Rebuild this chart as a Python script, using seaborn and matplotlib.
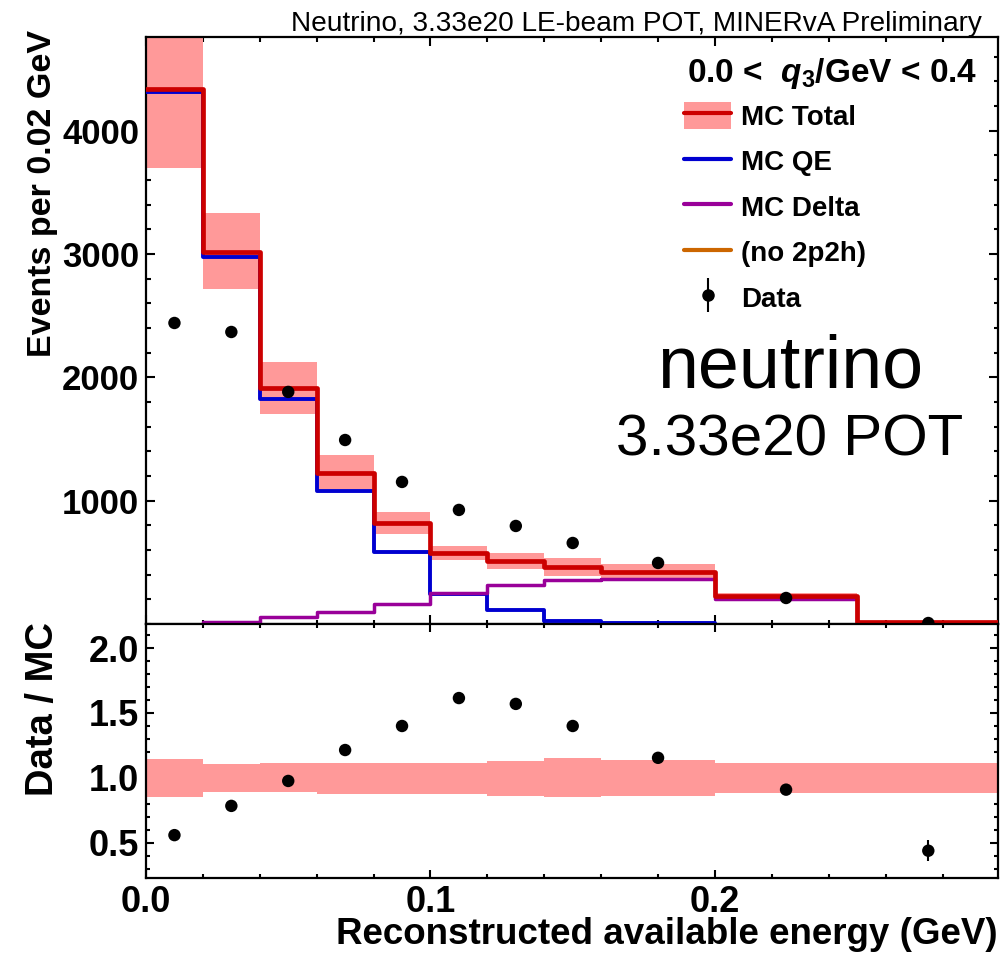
import numpy as np
import pandas as pd
import matplotlib
matplotlib.use("Agg")
import matplotlib.pyplot as plt
import seaborn as sns
from matplotlib.patches import Patch
from matplotlib.lines import Line2D
from matplotlib.ticker import MultipleLocator

# ---------------- data ----------------
bin_edges = [0.0, 0.02, 0.04, 0.06, 0.08, 0.10, 0.12, 0.14, 0.16, 0.20, 0.25, 0.30]
mc_total = [4339, 3017, 1914, 1225, 819, 576, 511, 462, 422, 227, 16]
mc_band_hi = [4975, 3333, 2125, 1371, 908, 633, 576, 535, 487, 253, 18]
mc_band_lo = [3698, 2717, 1703, 1095, 730, 519, 446, 389, 373, 201, 14]
mc_qe = [4315, 2977, 1825, 1079, 584, 245, 114, 24, 8]          # bins up to 0.20
mc_delta = [0, 16, 57, 97, 162, 251, 316, 357, 365, 203, 10]
data_x = [0.01, 0.03, 0.05, 0.07, 0.09, 0.11, 0.13, 0.15, 0.18, 0.225, 0.275]
data_y = [2441, 2368, 1882, 1492, 1152, 925, 795, 657, 495, 211, 8]
data_err = [50, 49, 44, 39, 34, 30, 28, 26, 22, 15, 4]
ratio_y = [0.56, 0.785, 0.977, 1.215, 1.40, 1.615, 1.57, 1.40, 1.155, 0.91, 0.44]
ratio_err = [0.02, 0.02, 0.025, 0.03, 0.03, 0.035, 0.035, 0.035, 0.03, 0.025, 0.08]
ratio_band_hi = [1.146, 1.108, 1.115, 1.115, 1.115, 1.115, 1.13, 1.15, 1.135, 1.115, 1.115]
ratio_band_lo = [0.854, 0.892, 0.890, 0.880, 0.880, 0.880, 0.86, 0.85, 0.860, 0.885, 0.885]

x_ticks = [0.0, 0.1, 0.2]
x_ticklabels = ["0.0", "0.1", "0.2"]
y_ticks_top = [1000, 2000, 3000, 4000]
y_ticks_ratio = [0.5, 1.0, 1.5, 2.0]
y_ticklabels_ratio = ["0.5", "1.0", "1.5", "2.0"]

title_text = "Neutrino, 3.33e20 LE-beam POT, MINERvA Preliminary"
legend_header = r"0.0 <  $q_{3}$/GeV < 0.4"
legend_labels = ["MC Total", "MC QE", "MC Delta", "(no 2p2h)", "Data"]

# ---------------- style ----------------
sns.set_theme(style="ticks")
plt.rcParams["font.family"] = ["Liberation Sans", "DejaVu Sans"]
plt.rcParams["mathtext.fontset"] = "custom"
plt.rcParams["mathtext.rm"] = "Liberation Sans:bold"
plt.rcParams["mathtext.it"] = "Liberation Sans:bold:italic"
plt.rcParams["mathtext.bf"] = "Liberation Sans:bold"
for k in ("text.color", "axes.labelcolor", "xtick.color", "ytick.color",
          "xtick.labelcolor", "ytick.labelcolor", "axes.edgecolor"):
    plt.rcParams[k] = "black"

RED = "#cc0000"
BAND = "#ff9999"
BLUE = "#0000d0"
PURPLE = "#990099"
ORANGE = "#cc6600"

W, H = 1002, 955
fig = plt.figure(figsize=(W / 100, H / 100), dpi=100)
L, R = 146 / W, 998 / W
ax1 = fig.add_axes([L, 1 - 624 / H, R - L, (624 - 37) / H])
ax2 = fig.add_axes([L, 1 - 878 / H, R - L, (878 - 624) / H])

def steps(edges, vals):
    return pd.DataFrame({"x": list(edges), "y": list(vals) + [vals[-1]]})

# ---------------- top panel ----------------
ax1.fill_between(bin_edges, list(mc_band_lo) + [mc_band_lo[-1]],
                 list(mc_band_hi) + [mc_band_hi[-1]], step="post",
                 color=BAND, linewidth=0, zorder=1)
d = steps(bin_edges[:len(mc_qe) + 1], mc_qe)
sns.lineplot(data=d, x="x", y="y", drawstyle="steps-post", color=BLUE,
             linewidth=2.8, ax=ax1, legend=False, zorder=3, estimator=None)
d = steps(bin_edges[1:], mc_delta[1:])
sns.lineplot(data=d, x="x", y="y", drawstyle="steps-post", color=PURPLE,
             linewidth=2.5, ax=ax1, legend=False, zorder=3, estimator=None)
d = steps(bin_edges, mc_total)
sns.lineplot(data=d, x="x", y="y", drawstyle="steps-post", color=RED,
             linewidth=3.4, ax=ax1, legend=False, zorder=4, estimator=None)
ax1.errorbar(data_x, data_y, yerr=data_err, fmt="none", ecolor="black",
             elinewidth=1.5, zorder=5)
sns.scatterplot(x=data_x, y=data_y, color="black", s=80, edgecolor="none",
                ax=ax1, zorder=6, legend=False)

ax1.set_xlim(0, 0.2995)
ax1.set_ylim(0, 4760)
ax1.set_xlabel("")
ax1.set_ylabel("Events per 0.02 GeV", fontsize=24.5, fontweight="bold")
ylab = ax1.yaxis.label
ylab.set_rotation_mode("default")
ylab.set_ha("center")
ylab.set_va("top")
ax1.yaxis.set_label_coords((43 - 146) / (998 - 146), 1 + 7 / (624 - 37))
ax1.set_yticks(y_ticks_top)
ax1.yaxis.set_minor_locator(MultipleLocator(200))
ax1.set_xticks(x_ticks)
ax1.set_xticklabels([])
ax1.xaxis.set_minor_locator(MultipleLocator(0.02))

# legend
data_handle = Line2D([], [], color="black", marker="o", markersize=8,
                     linestyle="none")
eh = (Line2D([], [], color="black", marker="|", markersize=24, mew=1.5,
             linestyle="none"), data_handle)
handles = [(Patch(facecolor=BAND, edgecolor="none"), Line2D([], [], color=RED, lw=3)),
           Line2D([], [], color=BLUE, lw=3),
           Line2D([], [], color=PURPLE, lw=3),
           Line2D([], [], color=ORANGE, lw=3),
           eh]
leg = ax1.legend(handles, legend_labels, loc="upper left",
                 bbox_to_anchor=(684 / W, 1 - 102 / H),
                 bbox_transform=fig.transFigure, frameon=False,
                 prop={"weight": "bold", "size": 20}, borderpad=0,
                 borderaxespad=0, handlelength=1.7, handleheight=1.1,
                 handletextpad=0.35, labelspacing=0.6)
fig.text(977 / W, 1 - 82 / H, legend_header, ha="right", va="baseline",
         fontsize=24, fontweight="bold")

fig.text(982 / W, 1 - 31 / H, title_text, ha="right", va="baseline", fontsize=20.2)
fig.text(790 / W, 1 - 388 / H, "neutrino", ha="center", va="baseline", fontsize=53)
fig.text(790 / W, 1 - 455 / H, "3.33e20 POT", ha="center", va="baseline", fontsize=42)

# ---------------- ratio panel ----------------
ax2.fill_between(bin_edges, list(ratio_band_lo) + [ratio_band_lo[-1]],
                 list(ratio_band_hi) + [ratio_band_hi[-1]], step="post",
                 color=BAND, linewidth=0, zorder=1)
ax2.errorbar(data_x, ratio_y, yerr=ratio_err, fmt="none", ecolor="black",
             elinewidth=1.5, zorder=5)
sns.scatterplot(x=data_x, y=ratio_y, color="black", s=80, edgecolor="none",
                ax=ax2, zorder=6, legend=False)
ax2.set_xlim(0, 0.2995)
ax2.set_ylim(0.23, 2.185)
ax2.set_xticks(x_ticks)
ax2.set_xticklabels(x_ticklabels)
ax2.xaxis.set_minor_locator(MultipleLocator(0.02))
ax2.set_yticks(y_ticks_ratio)
ax2.set_yticklabels(y_ticklabels_ratio)
ax2.yaxis.set_minor_locator(MultipleLocator(0.1))
ax2.set_ylabel("Data / MC", fontsize=27.5, fontweight="bold")
rl = ax2.yaxis.label
rl.set_rotation_mode("default")
rl.set_ha("center")
rl.set_va("top")
ax2.yaxis.set_label_coords((43 - 146) / (998 - 146), 1 + 2 / (878 - 624))
ax2.set_xlabel("Reconstructed available energy (GeV)", fontsize=26.5,
               fontweight="bold")
xl = ax2.xaxis.label
xl.set_ha("right")
xl.set_va("top")
ax2.xaxis.set_label_coords(1.0, -(917 - 878) / (878 - 624))

for ax, maj, mino, lsz in ((ax1, 9, 4.5, 25), (ax2, 8, 4, 26)):
    for s in ax.spines.values():
        s.set_linewidth(1.6)
        s.set_color("black")
    ax.tick_params(which="both", direction="in", top=True, right=True,
                   width=1.5, color="black")
    ax.tick_params(which="major", length=maj * 0.72)
    ax.tick_params(which="minor", length=mino * 0.72)
    ax.tick_params(axis="both", labelsize=lsz, pad=5, labelcolor="black")
    for t in ax.get_xticklabels() + ax.get_yticklabels():
        t.set_fontweight("bold")
    ax.set_facecolor("white")

fig.savefig("out.png", dpi=100, facecolor="white")
